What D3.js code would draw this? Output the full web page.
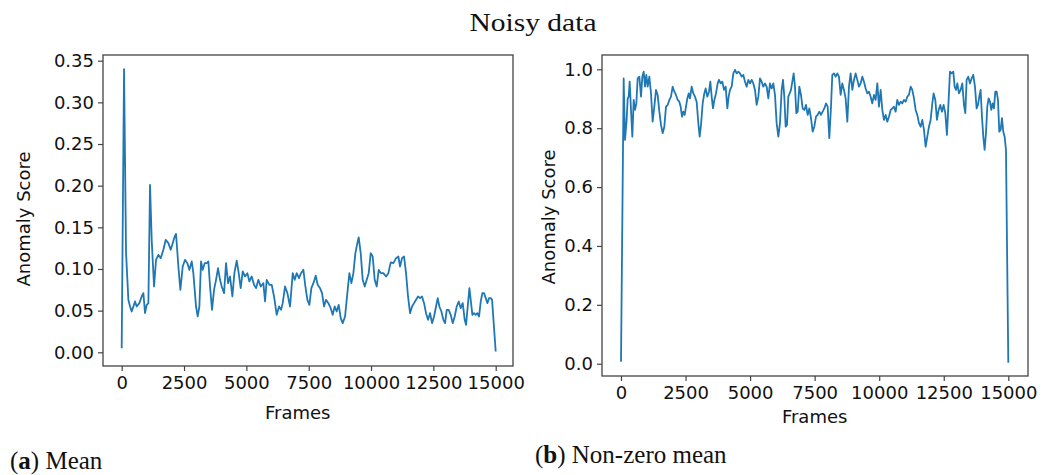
<!DOCTYPE html>
<html>
<head>
<meta charset="utf-8">
<script src="https://cdn.jsdelivr.net/npm/d3@7"></script>
<style>
  html, body { margin: 0; padding: 0; background: #fff; }
  svg { display: block; }
</style>
</head>
<body>
<svg id="chart" width="1059" height="475"></svg>
<script>
// ---------- data ----------
const titleText = "Noisy data";
const xTicks = [0, 2500, 5000, 7500, 10000, 12500, 15000];
const yTicksA = [0, 0.05, 0.10, 0.15, 0.20, 0.25, 0.30, 0.35];
const yTicksB = [0, 0.2, 0.4, 0.6, 0.8, 1.0];
const xLabel = "Frames";
const yLabel = "Anomaly Score";

const framesA = [0,94,174,267,334,400,468,535,602,709,802,869,936,1003,1070,1136,1203,1297,1377,1471,1564,1671,1765,1872,1965,2046,2126,2180,2273,2353,2447,2540,2634,2714,2808,2874,2981,3048,3115,3182,3249,3329,3409,3476,3543,3623,3703,3784,3864,3944,4011,4105,4185,4265,4345,4439,4519,4613,4693,4773,4853,4947,5040,5121,5214,5308,5388,5482,5575,5682,5749,5816,5923,6017,6110,6217,6311,6391,6458,6551,6645,6752,6859,6939,7019,7113,7193,7287,7367,7447,7527,7607,7688,7781,7861,7955,8035,8115,8195,8289,8383,8463,8543,8623,8704,8784,8864,8958,9051,9131,9212,9292,9372,9452,9506,9586,9666,9747,9827,9907,9987,10067,10147,10228,10308,10388,10495,10602,10696,10789,10896,11003,11097,11164,11244,11324,11404,11484,11565,11645,11725,11805,11885,11966,12046,12126,12206,12286,12367,12447,12527,12607,12674,12741,12822,12902,12969,13036,13116,13196,13276,13356,13437,13517,13597,13677,13757,13811,13878,13945,13998,14065,14132,14199,14266,14333,14400,14466,14533,14600,14667,14734,14801,14854,15000];
const scoreA = [0.005,0.340,0.120,0.063,0.055,0.049,0.055,0.061,0.055,0.059,0.067,0.071,0.047,0.057,0.059,0.201,0.135,0.079,0.111,0.117,0.113,0.123,0.135,0.131,0.123,0.131,0.139,0.142,0.103,0.075,0.103,0.111,0.107,0.099,0.109,0.095,0.055,0.043,0.055,0.109,0.099,0.107,0.107,0.109,0.079,0.051,0.075,0.087,0.101,0.087,0.079,0.071,0.107,0.083,0.091,0.067,0.095,0.110,0.095,0.077,0.097,0.091,0.095,0.085,0.091,0.081,0.077,0.087,0.079,0.083,0.061,0.087,0.081,0.081,0.067,0.045,0.055,0.051,0.059,0.079,0.071,0.055,0.095,0.087,0.095,0.089,0.095,0.099,0.079,0.063,0.057,0.077,0.083,0.092,0.081,0.077,0.071,0.055,0.063,0.059,0.053,0.045,0.055,0.049,0.057,0.041,0.035,0.043,0.071,0.095,0.083,0.095,0.119,0.131,0.138,0.119,0.087,0.079,0.087,0.095,0.119,0.115,0.087,0.079,0.099,0.095,0.095,0.091,0.095,0.108,0.107,0.113,0.115,0.103,0.113,0.115,0.095,0.067,0.047,0.055,0.059,0.063,0.067,0.065,0.067,0.059,0.047,0.039,0.047,0.035,0.043,0.055,0.065,0.055,0.049,0.039,0.035,0.051,0.051,0.045,0.035,0.043,0.055,0.061,0.053,0.059,0.039,0.033,0.055,0.077,0.063,0.045,0.047,0.045,0.047,0.043,0.061,0.071,0.071,0.065,0.059,0.065,0.065,0.063,0.001];

const framesB = [0,103,155,219,258,297,336,387,439,491,542,594,645,710,775,826,878,929,981,1033,1097,1162,1226,1291,1356,1420,1485,1549,1614,1678,1743,1807,1872,1936,2001,2066,2130,2195,2259,2311,2362,2414,2466,2517,2569,2621,2672,2737,2801,2866,2930,2995,3047,3098,3163,3227,3279,3343,3408,3460,3511,3563,3615,3679,3744,3795,3860,3924,3989,4053,4118,4170,4221,4286,4350,4415,4479,4544,4609,4673,4738,4802,4867,4931,4996,5060,5125,5189,5254,5319,5383,5448,5512,5577,5641,5706,5770,5835,5899,5964,6028,6093,6157,6222,6274,6325,6377,6429,6480,6532,6584,6635,6687,6738,6790,6842,6906,6971,7035,7100,7164,7229,7294,7358,7423,7487,7552,7616,7681,7745,7810,7874,7939,8004,8068,8133,8184,8249,8313,8378,8442,8507,8571,8636,8700,8765,8829,8894,8959,9023,9088,9152,9217,9281,9346,9411,9475,9540,9604,9669,9733,9798,9862,9927,9991,10056,10121,10185,10250,10314,10379,10443,10508,10572,10637,10701,10766,10830,10895,10959,11024,11089,11153,11218,11282,11347,11411,11476,11540,11605,11669,11734,11798,11863,11927,11992,12057,12108,12173,12237,12302,12366,12431,12495,12560,12624,12689,12741,12805,12870,12921,12973,13025,13089,13154,13218,13283,13335,13386,13451,13515,13580,13644,13709,13773,13825,13877,13928,13980,14032,14083,14135,14186,14238,14290,14341,14393,14445,14496,14548,14600,14651,14703,14755,14806,14858,14910,15000];
const scoreB = [0.007,0.969,0.760,0.828,0.900,0.907,0.958,0.862,0.771,0.896,0.862,0.884,0.969,0.975,0.907,0.975,0.992,0.941,0.981,0.941,0.975,0.918,0.822,0.873,0.930,0.913,0.856,0.811,0.783,0.805,0.873,0.879,0.896,0.907,0.941,0.924,0.913,0.896,0.890,0.873,0.839,0.856,0.845,0.873,0.901,0.918,0.901,0.941,0.918,0.907,0.890,0.817,0.771,0.811,0.884,0.918,0.935,0.907,0.924,0.958,0.907,0.867,0.896,0.918,0.952,0.964,0.952,0.958,0.930,0.941,0.867,0.907,0.930,0.941,0.986,0.998,0.986,0.992,0.986,0.975,0.981,0.958,0.941,0.964,0.952,0.964,0.952,0.930,0.879,0.907,0.969,0.958,0.941,0.952,0.941,0.901,0.952,0.935,0.952,0.913,0.817,0.771,0.817,0.930,0.964,0.907,0.805,0.811,0.907,0.918,0.930,0.958,0.986,0.941,0.851,0.856,0.941,0.913,0.867,0.862,0.879,0.845,0.867,0.834,0.788,0.805,0.839,0.845,0.856,0.845,0.856,0.867,0.884,0.873,0.766,0.873,0.981,0.986,0.975,0.986,0.975,0.913,0.952,0.930,0.901,0.822,0.941,0.986,0.930,0.964,0.986,0.964,0.941,0.952,0.975,0.958,0.935,0.918,0.924,0.907,0.884,0.913,0.896,0.952,0.873,0.930,0.862,0.828,0.845,0.822,0.839,0.862,0.867,0.873,0.856,0.896,0.879,0.890,0.884,0.896,0.890,0.907,0.913,0.941,0.930,0.901,0.862,0.845,0.817,0.805,0.828,0.794,0.737,0.771,0.805,0.828,0.884,0.918,0.896,0.828,0.862,0.879,0.856,0.879,0.851,0.777,0.896,0.992,0.986,0.992,0.941,0.930,0.952,0.918,0.930,0.952,0.879,0.851,0.964,0.975,0.952,0.969,0.981,0.941,0.867,0.879,0.907,0.930,0.839,0.771,0.726,0.783,0.873,0.901,0.890,0.862,0.884,0.867,0.924,0.924,0.896,0.788,0.794,0.834,0.788,0.771,0.726,0.003];

const captionA = { label: "a", text: " Mean" };
const captionB = { label: "b", text: " Non-zero mean" };

// ---------- drawing ----------
const svg = d3.select("#chart");
const lineColor = "#1f77b4";
const sans = "'DejaVu Sans', sans-serif";
const serif = "'Liberation Serif', 'DejaVu Serif', serif";

svg.append("text")
  .attr("x", 533).attr("y", 31)
  .attr("text-anchor", "middle")
  .attr("font-family", serif).attr("font-size", 26)
  .attr("textLength", 127).attr("lengthAdjust", "spacingAndGlyphs")
  .attr("fill", "#111")
  .text(titleText);

function panel(cfg) {
  const g = svg.append("g");
  const x = d3.scaleLinear().domain([0, 15000]).range([cfg.x0, cfg.x1]);
  const y = d3.scaleLinear().domain(cfg.yDomain).range([cfg.y0, cfg.y1]);

  // spines
  g.append("rect")
    .attr("x", cfg.left).attr("y", cfg.top)
    .attr("width", cfg.right - cfg.left).attr("height", cfg.bottom - cfg.top)
    .attr("fill", "none").attr("stroke", "#444").attr("stroke-width", 1.3);

  const xAxis = g.append("g")
    .attr("transform", `translate(0,${cfg.bottom})`)
    .call(d3.axisBottom(x).tickValues(xTicks).tickFormat(d3.format("d")).tickSize(5).tickPadding(cfg.xPad).tickSizeOuter(0));
  const yAxis = g.append("g")
    .attr("transform", `translate(${cfg.left},0)`)
    .call(d3.axisLeft(y).tickValues(cfg.yTicks).tickFormat(d3.format(cfg.yFmt)).tickSize(5).tickPadding(4).tickSizeOuter(0));
  [xAxis, yAxis].forEach(a => {
    a.select(".domain").remove();
    a.selectAll(".tick line").attr("stroke", "#444").attr("stroke-width", 1.2);
    a.selectAll(".tick text").attr("font-family", sans).attr("font-size", 18).attr("fill", "#111");
  });

  const line = d3.line().x((d, i) => x(cfg.frames[i])).y(d => y(d));
  g.append("path")
    .datum(cfg.values)
    .attr("d", line)
    .attr("fill", "none")
    .attr("stroke", lineColor)
    .attr("stroke-width", 1.8)
    .attr("stroke-linejoin", "round");

  g.append("text")
    .attr("x", (cfg.x0 + cfg.x1) / 2 + cfg.xlabDx).attr("y", cfg.xlabY)
    .attr("text-anchor", "middle")
    .attr("font-family", sans).attr("font-size", 18).attr("fill", "#111")
    .text(xLabel);
  g.append("text")
    .attr("transform", `translate(${cfg.ylabX},${cfg.ylabY}) rotate(-90)`)
    .attr("text-anchor", "middle")
    .attr("font-family", sans).attr("font-size", 18).attr("fill", "#111")
    .text(yLabel);

  const cap = svg.append("text")
    .attr("x", cfg.capX).attr("y", cfg.capY)
    .attr("font-family", serif).attr("font-size", 25).attr("fill", "#111");
  cap.append("tspan").text("(");
  cap.append("tspan").attr("font-weight", "bold").text(cfg.caption.label);
  cap.append("tspan").text(")" + cfg.caption.text);
}

panel({
  left: 103, right: 513, top: 55, bottom: 366,
  x0: 121.7, x1: 495.7, y0: 352.3, y1: 60.7,
  yDomain: [0, 0.35], yTicks: yTicksA, yFmt: ".2f",
  frames: framesA, values: scoreA, xPad: 5,
  xlabY: 419, xlabDx: -11, ylabX: 30, ylabY: 219,
  caption: captionA, capX: 10, capY: 469
});

panel({
  left: 602, right: 1028, top: 55, bottom: 376,
  x0: 621, x1: 1008.3, y0: 363.7, y1: 69.3,
  yDomain: [0, 1], yTicks: yTicksB, yFmt: ".1f",
  frames: framesB, values: scoreB, xPad: 5,
  xlabY: 423, xlabDx: 0, ylabX: 555, ylabY: 217,
  caption: captionB, capX: 535, capY: 463
});
</script>
</body>
</html>
